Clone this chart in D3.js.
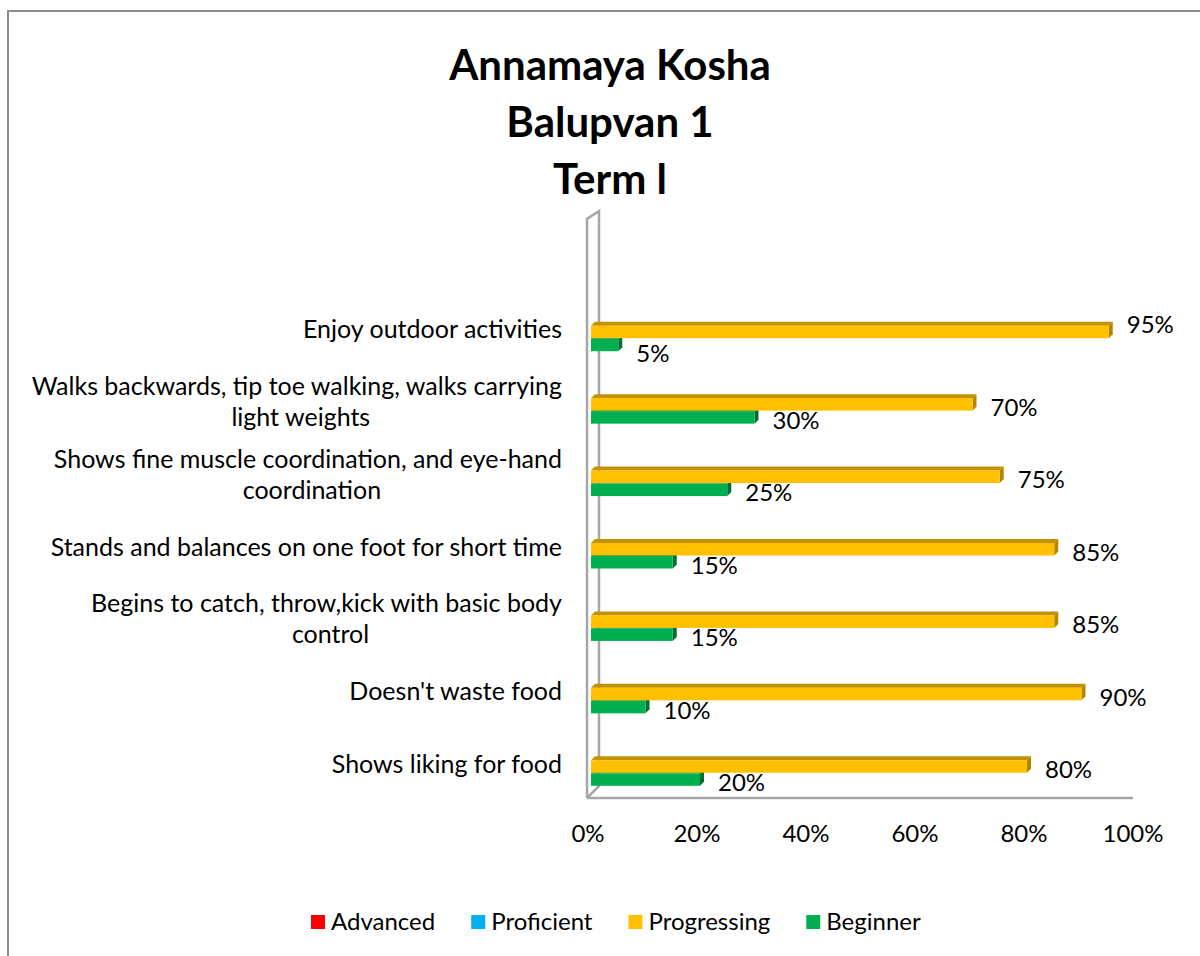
<!DOCTYPE html>
<html>
<head>
<meta charset="utf-8">
<script src="https://cdn.jsdelivr.net/npm/d3@7"></script>
<style>
  body { margin: 0; background: #fff; }
  text { font-family: Lato, "Open Sans", sans-serif; fill: #000; }
</style>
</head>
<body>
<svg id="chart" width="1200" height="956"></svg>
<script>
// category labels, top to bottom (each entry = lines of the label)
var categories = [
    ["Enjoy outdoor activities"],
    ["Walks backwards, tip toe walking, walks carrying", "light weights"],
    ["Shows fine muscle coordination, and eye-hand", "coordination"],
    ["Stands and balances on one foot for short time"],
    ["Begins to catch, throw,kick with basic body", "control"],
    ["Doesn't waste food"],
    ["Shows liking for food"]
];
var advanced   = [0, 0, 0, 0, 0, 0, 0];
var proficient = [0, 0, 0, 0, 0, 0, 0];
var progressing = [0.95, 0.70, 0.75, 0.85, 0.85, 0.90, 0.80];
var beginner    = [0.05, 0.30, 0.25, 0.15, 0.15, 0.10, 0.20];
var xTicks = [0, 0.2, 0.4, 0.6, 0.8, 1.0];
var titleLines = ["Annamaya Kosha", "Balupvan 1", "Term l"];
var legendNames = ["Advanced", "Proficient", "Progressing", "Beginner"];

const colors = {
    Advanced:    { front: "#FF0000", top: "#C00000", side: "#A00000" },
    Proficient:  { front: "#00B0F0", top: "#0088BB", side: "#007099" },
    Progressing: { front: "#FFC000", top: "#C29200", side: "#B38600" },
    Beginner:    { front: "#00B050", top: "#008A3E", side: "#006E30" }
};

const svg = d3.select("#chart");
const depth = 4; // 3d offset of the bars
const pct = d3.format(".0%");

// outer chart border
svg.append("path")
    .attr("d", "M8,956 L8,11 L1200,11")
    .attr("fill", "none")
    .attr("stroke", "#8c8c8c")
    .attr("stroke-width", 2);

// title
svg.append("g").selectAll("text")
    .data(titleLines)
    .enter().append("text")
    .attr("x", 610)
    .attr("y", (d, i) => 80 + i * 57)
    .attr("text-anchor", "middle")
    .style("font-weight", "bold")
    .style("font-size", "42px")
    .text(d => d);

const x = d3.scaleLinear().domain([0, 1]).range([588, 1133]);
const y = d3.scaleBand()
    .domain(d3.range(categories.length))
    .range([294, 801]);
const ySeries = d3.scaleBand()
    .domain(["Progressing", "Beginner"])
    .range([-4.5, 21])
    .paddingInner(0.04);

// 3d frame (back wall + floor)
const wallTop = 211, floorY = 798, backX = x(0) + 11;
const frame = svg.append("g")
    .attr("fill", "none")
    .attr("stroke", "#a6a6a6")
    .attr("stroke-width", 2.5);
frame.append("path")
    .attr("d", `M${x(0) - 1},${floorY} L${x(0) - 1},${wallTop + 8} L${backX},${wallTop} L${backX},${floorY - 12} L${x(0) - 1},${floorY}`);
frame.append("path")
    .attr("d", `M${x(0) - 1},${floorY} L${x(1)},${floorY}`);

// x tick labels
svg.append("g").selectAll("text")
    .data(xTicks)
    .enter().append("text")
    .attr("x", d => x(d))
    .attr("y", 842)
    .attr("text-anchor", "middle")
    .style("font-size", "24px")
    .text(d => pct(d));

// category labels
const catG = svg.append("g").style("font-size", "25px");
categories.forEach(function(lines, i) {
    var cy = y(i) + y.bandwidth() / 2;
    if (lines.length === 1) {
        catG.append("text")
            .attr("x", 562)
            .attr("y", cy + 8)
            .attr("text-anchor", "end")
            .text(lines[0]);
    } else {
        var first = catG.append("text")
            .attr("x", 562)
            .attr("y", cy - 15.5 + 8)
            .attr("text-anchor", "end")
            .text(lines[0]);
        var w = first.node().getComputedTextLength();
        catG.append("text")
            .attr("x", 562 - w / 2 + 4)
            .attr("y", cy + 15.5 + 8)
            .attr("text-anchor", "middle")
            .text(lines[1]);
    }
});

// 3d bars
function drawBar(g, value, top, h, c) {
    var x0 = x(0) + 3, x1 = x(value) + 3;
    g.append("polygon")
        .attr("points", [[x0, top], [x0 + depth, top - depth], [x1 + depth, top - depth], [x1, top]].join(" "))
        .attr("fill", c.top);
    g.append("polygon")
        .attr("points", [[x1, top], [x1 + depth, top - depth], [x1 + depth, top + h - depth], [x1, top + h]].join(" "))
        .attr("fill", c.side);
    g.append("rect")
        .attr("x", x0).attr("y", top)
        .attr("width", x1 - x0).attr("height", h)
        .attr("fill", c.front);
}

const barsG = svg.append("g");
const h = ySeries.bandwidth();
categories.forEach(function(lines, i) {
    var cy = y(i) + y.bandwidth() / 2;
    var g = barsG.append("g");
    var topB = cy + ySeries("Beginner");
    var topP = cy + ySeries("Progressing");
    drawBar(g, beginner[i], topB, h, colors.Beginner);
    drawBar(g, progressing[i], topP, h, colors.Progressing);

    // labels sit just below bar centre; top row got pushed apart by excel
    var offP = i === 0 ? 1.5 : 11.5;
    var offB = i === 0 ? 17.5 : 11.5;
    g.append("text")
        .attr("x", x(progressing[i]) + 3 + depth + 14)
        .attr("y", topP + h / 2 + offP)
        .style("font-size", "24px")
        .text(pct(progressing[i]));
    g.append("text")
        .attr("x", x(beginner[i]) + 3 + depth + 14)
        .attr("y", topB + h / 2 + offB)
        .style("font-size", "24px")
        .text(pct(beginner[i]));
});

// legend
const legend = svg.append("g");
var lx = 311;
legendNames.forEach(function(name) {
    legend.append("rect")
        .attr("x", lx).attr("y", 915)
        .attr("width", 14).attr("height", 14)
        .attr("fill", colors[name].front);
    var t = legend.append("text")
        .attr("x", lx + 20)
        .attr("y", 930)
        .style("font-size", "24px")
        .text(name);
    lx += 20 + t.node().getComputedTextLength() + 36;
});
</script>
</body>
</html>
